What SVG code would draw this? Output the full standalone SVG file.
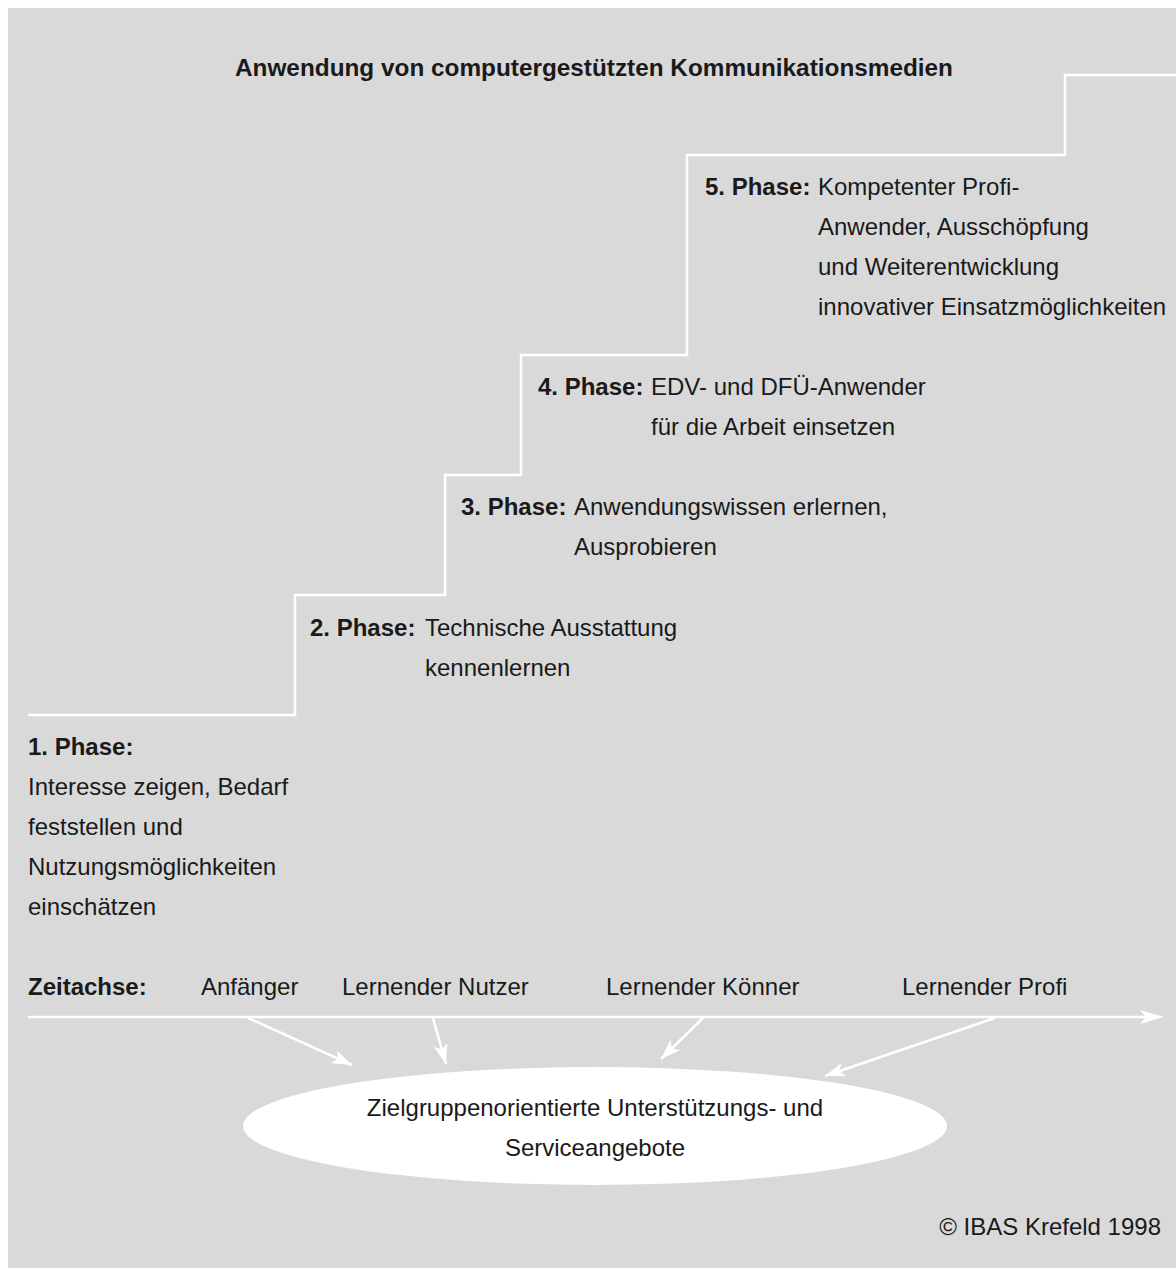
<svg xmlns="http://www.w3.org/2000/svg" width="1176" height="1268" viewBox="0 0 1176 1268">
  <style>
    text { font-family: "Liberation Sans", Arial, sans-serif; font-size: 24px; fill: #1a1a1a; }
    .b { font-weight: bold; }
    .w { stroke: #ffffff; stroke-width: 2.5; fill: none; }
    .mid { text-anchor: middle; }
    .end { text-anchor: end; }
  </style>
  <defs>
    <marker id="ah" markerUnits="userSpaceOnUse" markerWidth="22" markerHeight="14" refX="20" refY="7" orient="auto">
      <path d="M0,0 L20,7 L0,14 L5,7 z" fill="#ffffff"/>
    </marker>
  </defs>
  <rect x="8" y="8" width="1168" height="1260" fill="#d9d9d9"/>

  <g id="title">
    <text class="b" x="235" y="76" textLength="718" lengthAdjust="spacingAndGlyphs">Anwendung von computergestützten Kommunikationsmedien</text>
  </g>

  <g id="stairs">
    <path class="w" d="M28,715 H295 V595 H445 V475 H521 V355 H687 V155 H1065 V75 H1176"/>
  </g>

  <g id="phase5">
    <text class="b" x="705" y="195">5. Phase:</text>
    <text x="818" y="195">Kompetenter Profi-</text>
    <text x="818" y="235">Anwender, Ausschöpfung</text>
    <text x="818" y="275">und Weiterentwicklung</text>
    <text x="818" y="315">innovativer Einsatzmöglichkeiten</text>
  </g>

  <g id="phase4">
    <text class="b" x="538" y="395">4. Phase:</text>
    <text x="651" y="395">EDV- und DFÜ-Anwender</text>
    <text x="651" y="435">für die Arbeit einsetzen</text>
  </g>

  <g id="phase3">
    <text class="b" x="461" y="515">3. Phase:</text>
    <text x="574" y="515">Anwendungswissen erlernen,</text>
    <text x="574" y="555">Ausprobieren</text>
  </g>

  <g id="phase2">
    <text class="b" x="310" y="636">2. Phase:</text>
    <text x="425" y="636">Technische Ausstattung</text>
    <text x="425" y="676">kennenlernen</text>
  </g>

  <g id="phase1">
    <text class="b" x="28" y="755">1. Phase:</text>
    <text x="28" y="795">Interesse zeigen, Bedarf</text>
    <text x="28" y="835">feststellen und</text>
    <text x="28" y="875">Nutzungsmöglichkeiten</text>
    <text x="28" y="915">einschätzen</text>
  </g>

  <g id="axis-labels">
    <text class="b" x="28" y="995">Zeitachse:</text>
    <text x="201" y="995">Anfänger</text>
    <text x="342" y="995">Lernender Nutzer</text>
    <text x="606" y="995">Lernender Könner</text>
    <text x="902" y="995">Lernender Profi</text>
  </g>

  <g id="service">
    <ellipse cx="595" cy="1126" rx="352" ry="59" fill="#ffffff"/>
    <text class="mid" x="595" y="1116">Zielgruppenorientierte Unterstützungs- und</text>
    <text class="mid" x="595" y="1156">Serviceangebote</text>
  </g>

  <g id="connectors">
    <line class="w" x1="28" y1="1017" x2="1146" y2="1017"/>
    <polygon points="1140,1010 1164,1017 1140,1024 1146,1017" fill="#ffffff"/>
    <line class="w" x1="248" y1="1018" x2="352" y2="1065" marker-end="url(#ah)"/>
    <line class="w" x1="433" y1="1018" x2="446" y2="1064" marker-end="url(#ah)"/>
    <line class="w" x1="703" y1="1018" x2="661" y2="1059" marker-end="url(#ah)"/>
    <line class="w" x1="995" y1="1018" x2="825" y2="1076" marker-end="url(#ah)"/>
  </g>

  <g id="copyright">
    <text class="end" x="1161" y="1235">© IBAS Krefeld 1998</text>
  </g>
</svg>
